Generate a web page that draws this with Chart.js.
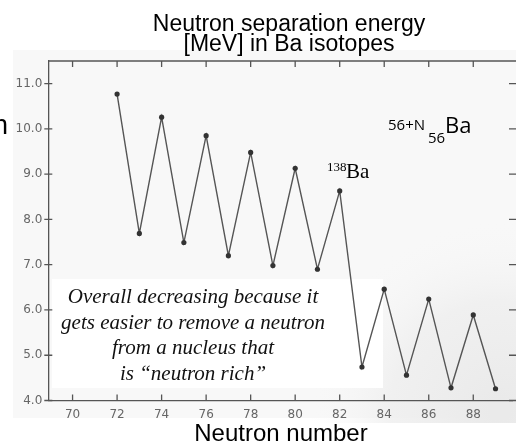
<!DOCTYPE html>
<html><head><meta charset="utf-8">
<script src="https://cdn.jsdelivr.net/npm/chart.js@4/dist/chart.umd.min.js"></script>
<style>html,body{margin:0;padding:0;background:#fff}#wrap{width:516px;height:445px;position:relative}</style>
</head><body><div id="wrap"><canvas id="c" width="516" height="445"></canvas></div>
<script>
const neutrons = [72,73,74,75,76,77,78,79,80,81,82,83,84,85,86,87,88,89];
const sepEnergy = [10.77,7.69,10.26,7.49,9.85,7.20,9.48,6.98,9.13,6.90,8.63,4.74,6.46,4.56,6.24,4.28,5.89,4.26];
const xTicks = [70,72,74,76,78,80,82,84,86,88];
const yTicks = [4,5,6,7,8,9,10,11];
const titleLines = ["Neutron separation energy","[MeV] in Ba isotopes"];
const xTitle = "Neutron number";
const noteLines = ["Overall decreasing because it","gets easier to remove a neutron","from a nucleus that","is \u201cneutron rich\u201d"];

const deco = {
  id:'deco',
  beforeDraw(chart){
    const ctx=chart.ctx;
    ctx.save();
    ctx.fillStyle='#fff';ctx.fillRect(0,0,516,445);
    ctx.fillStyle='#f8f8f8';ctx.fillRect(13,50,503,368);
    const g=ctx.createRadialGradient(500,410,10,500,410,190);
    g.addColorStop(0,'rgba(234,234,234,1)');g.addColorStop(0.55,'rgba(238,238,238,0.8)');g.addColorStop(1,'rgba(248,248,248,0)');
    ctx.fillStyle=g;ctx.fillRect(13,50,503,373);
    ctx.restore();
  },
  beforeDatasetsDraw(chart){
    const ctx=chart.ctx;
    ctx.save();
    ctx.fillStyle='#fff';ctx.fillRect(52,279,331,109);
    const xs=chart.scales.x, ys=chart.scales.y, a=chart.chartArea;
    ctx.strokeStyle='#555';ctx.lineWidth=1.3;
    ctx.beginPath();
    ctx.moveTo(a.left,a.top);ctx.lineTo(a.right+4,a.top);
    xTicks.forEach(v=>{const p=xs.getPixelForValue(v);
      ctx.moveTo(p,a.bottom);ctx.lineTo(p,a.bottom-6);
      ctx.moveTo(p,a.top);ctx.lineTo(p,a.top+6);});
    yTicks.forEach(v=>{const p=ys.getPixelForValue(v);
      ctx.moveTo(a.left-4,p);ctx.lineTo(a.left+4,p);
      ctx.moveTo(a.right-3,p);ctx.lineTo(a.right+4,p);});
    ctx.stroke();
    ctx.restore();
  },
  afterDraw(chart){
    const ctx=chart.ctx;
    ctx.save();
    ctx.fillStyle='#000';ctx.textAlign='center';ctx.textBaseline='alphabetic';
    ctx.font='23px "Liberation Sans", Arial, sans-serif';
    ctx.fillText(titleLines[0],289,31);
    ctx.fillText(titleLines[1],289,51);
    ctx.font='24px "Liberation Sans", Arial, sans-serif';
    ctx.fillText(xTitle,281,441);
    ctx.textAlign='left';
    ctx.font='27px "Liberation Sans", Arial, sans-serif';
    ctx.fillText('n',-7,134);
    ctx.font='13px "Liberation Serif", serif';
    ctx.fillText('138',327,171);
    ctx.font='21px "Liberation Serif", serif';
    ctx.fillText('Ba',346,178);
    ctx.font='15px "Open Sans", sans-serif';
    ctx.fillText('56+N',388,130);
    ctx.font='15px "Open Sans", sans-serif';
    ctx.fillText('56',428,143);
    ctx.font='22px "Open Sans", sans-serif';
    ctx.fillText('Ba',445,133);
    ctx.textAlign='center';
    ctx.font='italic 21px "Liberation Serif", serif';
    ctx.fillStyle='#111';
    const bl=[303,329,354,380];
    noteLines.forEach((t,i)=>ctx.fillText(t,193,bl[i]));
    ctx.restore();
  }
};

new Chart(document.getElementById('c'),{
  type:'scatter',
  data:{datasets:[{data:neutrons.map((n,i)=>({x:n,y:sepEnergy[i]})),
    showLine:true,borderColor:'#555',borderWidth:1.4,
    pointRadius:2.6,pointBackgroundColor:'#333',pointBorderWidth:0,tension:0}]},
  options:{
    responsive:false,animation:false,
    layout:{padding:{left:0,top:61,right:2,bottom:0}},
    plugins:{legend:{display:false},tooltip:{enabled:false}},
    scales:{
      x:{type:'linear',min:68.91,max:89.74,
        afterFit(s){s.height=44.5;},
        afterBuildTicks(s){s.ticks=xTicks.map(v=>({value:v}));},
        grid:{display:false,drawTicks:false},
        border:{display:true,color:'#555',width:1.3},
        ticks:{padding:7,color:'#666',font:{family:'"DejaVu Sans"',size:12},maxRotation:0,autoSkip:false}},
      y:{type:'linear',min:4,max:11.5,
        afterFit(s){s.width=48.3;},
        afterBuildTicks(s){s.ticks=yTicks.map(v=>({value:v}));},
        grid:{display:false,drawTicks:false},
        border:{display:true,color:'#555',width:1.3},
        ticks:{padding:6,color:'#666',font:{family:'"DejaVu Sans"',size:12},
          callback:v=>v.toFixed(1)}}
    }
  },
  plugins:[deco]
});
</script></body></html>
